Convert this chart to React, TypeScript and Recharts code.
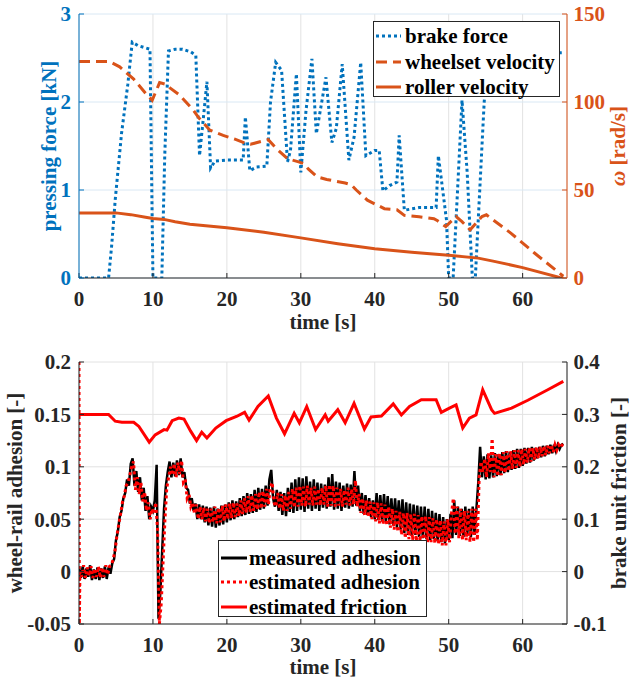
import React from 'react';
import { LineChart, Line, XAxis, YAxis, CartesianGrid, Legend } from 'recharts';

const FONT = 'Liberation Serif, DejaVu Serif, Noto Serif, Times, serif';
const BLUE = '#0072BD';
const ORANGE = '#D95319';
const DARK = '#262626';
const RED = '#FF0000';
const BLACK = '#000000';

// ---------- top panel data ----------
const BRAKE_T = [0, 4, 4.4, 4.9, 5.75, 6.6, 7.2, 8, 9.6, 10, 11.2, 11.6, 12.1, 13, 14, 15.1, 15.8, 16.3, 16.8, 17.3, 17.8, 18.4, 20, 22.2, 22.5, 23.1, 24, 25.4, 25.9, 26.6, 27.4, 28.2, 28.6, 29.4, 30, 30.7, 31.5, 32.1, 33.4, 34.2, 34.8, 35.6, 36.5, 37.2, 38.1, 38.8, 40, 40.6, 41.1, 42, 43, 43.3, 44, 46, 48.3, 48.6, 49.7, 50, 50.6, 51.2, 51.8, 52.5, 53.2, 53.6, 54.2, 54.8, 55.3, 60, 65.5];
const BRAKE_F = [0, 0, 0.35, 0.89, 1.64, 2.2, 2.68, 2.64, 2.6, 0, 0, 1.4, 2.58, 2.6, 2.6, 2.57, 2.53, 1.39, 1.8, 2.23, 1.25, 1.33, 1.34, 1.34, 1.83, 1.22, 1.26, 1.27, 2.0, 2.45, 2.36, 1.32, 1.45, 2.32, 1.2, 1.9, 2.49, 1.64, 2.28, 1.54, 1.7, 2.43, 1.34, 1.6, 2.45, 1.39, 1.45, 1.45, 0.99, 1.05, 1.09, 1.62, 0.77, 0.8, 0.8, 1.39, 0.66, 0, 0, 1.0, 2.02, 1.2, 0, 0, 1.0, 2.0, 2.55, 2.55, 2.56];

const WHEEL_T = [0, 4.1, 5.5, 7.4, 9, 9.9, 10.9, 11.8, 12.3, 13.6, 15.5, 16.2, 17.7, 19.5, 21, 22.7, 23.2, 25.6, 26.7, 28.2, 29.7, 30.4, 31, 32.2, 33.5, 34.7, 36, 36.8, 37.5, 39, 41.3, 43, 44, 46, 48, 48.5, 49.6, 51, 51.8, 52.9, 54.5, 55.1, 58.4, 61.6, 65.5];
const WHEEL_W = [123, 123, 120, 113, 105, 101, 111, 110, 108, 104, 95.2, 91, 84, 81, 79, 76.3, 76, 78.6, 73.5, 67.8, 66, 65, 62, 57.5, 56, 55, 54, 53, 50, 44.2, 39.4, 38.8, 35.6, 34.8, 33.7, 32.5, 29.2, 34.9, 32, 27.4, 34.9, 35.9, 25.5, 14.2, 1];

const ROLLER_T = [0, 5, 7, 9, 10, 11.5, 13, 15, 20, 25, 30, 35, 40, 45, 50, 54, 56, 60, 65, 65.5];
const ROLLER_W = [37, 37, 36, 34.5, 33.8, 33.3, 32, 30.5, 28.5, 26, 22.8, 19.5, 16.6, 14.6, 12.9, 11.3, 9.6, 5.9, 0.3, 0];

// ---------- bottom panel data ----------
const SAMPLE_STEP = 0.25;
// measured adhesion, sampled every 0.25 s from t = 0 (10 values = 2.5 s per row)
const MEAS_ADH = [
  0.004, -0.006, 0.005, -0.007, 0.003, -0.005, 0.006, -0.008, 0.002, -0.007,
  0.004, -0.008, 0.003, -0.006, 0.005, -0.007, 0.004, -0.002, 0.008, 0.012,
  0.03, 0.038, 0.052, 0.058, 0.07, 0.075, 0.088, 0.082, 0.103, 0.108,
  0.082, 0.096, 0.076, 0.09, 0.068, 0.08, 0.058, 0.072, 0.05, 0.062,
  0.058, 0.068, 0.102, -0.045, -0.02, 0.02, 0.06, 0.082, 0.095, 0.105,
  0.09, 0.104, 0.091, 0.106, 0.092, 0.108, 0.09, 0.095, 0.08, 0.078,
  0.065, 0.07, 0.058, 0.065, 0.05, 0.064, 0.05, 0.063, 0.047, 0.062,
  0.044, 0.061, 0.043, 0.062, 0.042, 0.06, 0.044, 0.063, 0.045, 0.064,
  0.047, 0.066, 0.049, 0.068, 0.05, 0.067, 0.052, 0.07, 0.053, 0.072,
  0.054, 0.075, 0.055, 0.074, 0.056, 0.078, 0.057, 0.08, 0.059, 0.079,
  0.06, 0.082, 0.063, 0.088, 0.097, 0.07, 0.062, 0.078, 0.058, 0.076,
  0.054, 0.075, 0.053, 0.08, 0.057, 0.085, 0.056, 0.088, 0.058, 0.09,
  0.059, 0.089, 0.057, 0.091, 0.06, 0.086, 0.058, 0.088, 0.06, 0.085,
  0.058, 0.084, 0.061, 0.083, 0.06, 0.09, 0.062, 0.093, 0.059, 0.086,
  0.06, 0.085, 0.058, 0.082, 0.061, 0.084, 0.06, 0.083, 0.062, 0.096,
  0.063, 0.082, 0.058, 0.075, 0.055, 0.073, 0.054, 0.07, 0.052, 0.068,
  0.05, 0.075, 0.049, 0.073, 0.048, 0.074, 0.047, 0.072, 0.045, 0.07,
  0.044, 0.07, 0.042, 0.068, 0.04, 0.069, 0.037, 0.066, 0.035, 0.065,
  0.034, 0.064, 0.035, 0.063, 0.033, 0.062, 0.032, 0.062, 0.031, 0.06,
  0.03, 0.058, 0.031, 0.056, 0.029, 0.055, 0.028, 0.052, 0.027, 0.05,
  0.03, 0.055, 0.032, 0.068, 0.035, 0.062, 0.034, 0.06, 0.033, 0.062,
  0.034, 0.06, 0.033, 0.062, 0.035, 0.06, 0.085, 0.119, 0.09, 0.11,
  0.088, 0.112, 0.089, 0.111, 0.09, 0.113, 0.091, 0.112, 0.092, 0.114,
  0.094, 0.115, 0.095, 0.114, 0.097, 0.116, 0.098, 0.117, 0.099, 0.117,
  0.101, 0.118, 0.103, 0.118, 0.104, 0.119, 0.106, 0.118, 0.108, 0.119,
  0.109, 0.12, 0.11, 0.12, 0.112, 0.121, 0.113, 0.121, 0.115, 0.121,
  0.117, 0.121, 0.122,
];
// estimated adhesion: start transient, then samples every 0.25 s from t = 0.125
const EST_START_T = [0, 0.05];
const EST_START_V = [0.2, -0.05];
const EST_FIRST_T = 0.125;
const EST_ADH = [
  0.0, -0.005, 0.006, -0.006, 0.004, -0.004, 0.005, -0.006, 0.003, -0.005,
  0.005, -0.006, 0.004, -0.005, 0.006, -0.003, 0.005, 0.006, 0.012, 0.02,
  0.034, 0.045, 0.055, 0.066, 0.072, 0.082, 0.085, 0.092, 0.1, 0.105,
  0.078, 0.09, 0.074, 0.085, 0.067, 0.076, 0.058, 0.066, 0.05, 0.06,
  0.055, 0.066, 0.04, -0.05, -0.03, 0.01, 0.05, 0.08, 0.09, 0.1,
  0.092, 0.103, 0.09, 0.104, 0.093, 0.106, 0.085, 0.088, 0.07, 0.074,
  0.062, 0.066, 0.055, 0.064, 0.05, 0.062, 0.05, 0.061, 0.048, 0.06,
  0.046, 0.06, 0.047, 0.062, 0.046, 0.061, 0.047, 0.063, 0.048, 0.064,
  0.05, 0.065, 0.051, 0.066, 0.052, 0.065, 0.053, 0.068, 0.055, 0.07,
  0.056, 0.072, 0.057, 0.073, 0.058, 0.074, 0.059, 0.076, 0.06, 0.077,
  0.062, 0.079, 0.064, 0.08, 0.085, 0.066, 0.062, 0.075, 0.06, 0.074,
  0.058, 0.073, 0.058, 0.076, 0.06, 0.079, 0.061, 0.08, 0.062, 0.082,
  0.063, 0.081, 0.062, 0.082, 0.064, 0.08, 0.063, 0.081, 0.064, 0.079,
  0.063, 0.08, 0.064, 0.082, 0.062, 0.083, 0.063, 0.082, 0.062, 0.08,
  0.063, 0.079, 0.062, 0.078, 0.064, 0.08, 0.063, 0.079, 0.064, 0.087,
  0.062, 0.074, 0.056, 0.07, 0.054, 0.068, 0.052, 0.067, 0.05, 0.066,
  0.048, 0.066, 0.046, 0.065, 0.045, 0.064, 0.044, 0.062, 0.042, 0.06,
  0.04, 0.058, 0.038, 0.057, 0.035, 0.056, 0.032, 0.056, 0.031, 0.055,
  0.03, 0.055, 0.029, 0.054, 0.029, 0.053, 0.028, 0.053, 0.028, 0.052,
  0.028, 0.051, 0.027, 0.05, 0.026, 0.049, 0.025, 0.048, 0.025, 0.05,
  0.028, 0.055, 0.07, 0.036, 0.062, 0.032, 0.06, 0.03, 0.058, 0.03,
  0.058, 0.028, 0.06, 0.028, 0.06, 0.03, 0.09, 0.105, 0.095, 0.108,
  0.09, 0.113, 0.095, 0.127, 0.09, 0.112, 0.091, 0.113, 0.092, 0.114,
  0.094, 0.115, 0.096, 0.115, 0.098, 0.116, 0.099, 0.116, 0.1, 0.117,
  0.102, 0.117, 0.104, 0.118, 0.105, 0.118, 0.107, 0.119, 0.108, 0.119,
  0.11, 0.12, 0.111, 0.12, 0.113, 0.121, 0.114, 0.121, 0.116, 0.121,
  0.118, 0.121,
];
const EST_END_T = [65.5];
const EST_END_V = [0.122];

const FRIC_T = [0, 4, 4.9, 5.8, 7.4, 8.1, 9.5, 10.3, 11.5, 11.9, 12.6, 13.5, 14.2, 15.1, 15.9, 16.6, 17.3, 18.5, 19.9, 21.3, 22.4, 23, 24.2, 25.6, 26.7, 27.8, 29.1, 29.8, 30.8, 32, 33.3, 33.7, 35, 36, 37.2, 38.6, 39.5, 40.9, 42.5, 43.6, 44.7, 46.3, 48.3, 49, 50.1, 51, 51.9, 52.8, 53.7, 54.6, 55.8, 56.2, 58.5, 60.7, 63.4, 65.5];
const FRIC_V = [0.3, 0.3, 0.287, 0.285, 0.285, 0.277, 0.247, 0.261, 0.271, 0.27, 0.288, 0.293, 0.291, 0.268, 0.25, 0.266, 0.255, 0.274, 0.288, 0.296, 0.304, 0.289, 0.315, 0.335, 0.293, 0.263, 0.302, 0.284, 0.315, 0.271, 0.299, 0.287, 0.309, 0.284, 0.321, 0.272, 0.295, 0.297, 0.32, 0.299, 0.315, 0.328, 0.328, 0.304, 0.312, 0.318, 0.274, 0.293, 0.299, 0.347, 0.309, 0.302, 0.312, 0.327, 0.347, 0.363];

// ---------- ticks / labels ----------
const TIME_TICKS = [0, 10, 20, 30, 40, 50, 60];
const FORCE_TICKS = [0, 1, 2, 3];
const OMEGA_TICKS = [0, 50, 100, 150];
const ADH_TICKS = [-0.05, 0, 0.05, 0.1, 0.15, 0.2];
const FRIC_TICKS = [-0.1, 0, 0.1, 0.2, 0.3, 0.4];
const TOP_NAMES = ['brake force', 'wheelset velocity', 'roller velocity'];
const BOTTOM_NAMES = ['measured adhesion', 'estimated adhesion', 'estimated friction'];

const zipPts = (ts: number[], vs: number[]) => ts.map((t, i) => ({ t, v: vs[i] }));

const brakeData = zipPts(BRAKE_T, BRAKE_F);
const wheelData = zipPts(WHEEL_T, WHEEL_W);
const rollerData = zipPts(ROLLER_T, ROLLER_W);
const measData = MEAS_ADH.map((v, i) => ({ t: i * SAMPLE_STEP, v }));
const estData = [
  ...zipPts(EST_START_T, EST_START_V),
  ...EST_ADH.map((v, i) => ({ t: EST_FIRST_T + i * SAMPLE_STEP, v })),
  ...zipPts(EST_END_T, EST_END_V),
];
const fricData = zipPts(FRIC_T, FRIC_V);

const tickFont = { fontSize: 21, fontWeight: 'bold', fontFamily: FONT };

function AxisTitle(props: any) {
  const { px, py, rotate, color, children } = props;
  return (
    <text
      x={px}
      y={py}
      transform={rotate ? `rotate(-90 ${px} ${py})` : undefined}
      textAnchor="middle"
      dominantBaseline="central"
      fill={color}
      fontSize={21}
      fontWeight="bold"
      fontFamily={FONT}
    >
      {children}
    </text>
  );
}

type Item = { name: string; color: string; dash?: string; sw: number };

function LegendBox(props: { items: Item[]; w: number; h: number; rows: number[]; sx: number; sw: number; tx: number }) {
  const { items, w, h, rows, sx, sw, tx } = props;
  return (
    <div
      style={{
        position: 'relative',
        width: w,
        height: h,
        background: '#fff',
        border: `1px solid ${DARK}`,
        boxSizing: 'border-box',
        fontFamily: FONT,
        fontWeight: 'bold',
        fontSize: 21,
        color: '#000',
      }}
    >
      {items.map((it, i) => (
        <div key={i} style={{ position: 'absolute', left: 0, top: rows[i] - 13, height: 26, width: w - 2 }}>
          <svg width={sw} height={10} style={{ position: 'absolute', left: sx, top: 8 }}>
            <line x1={0} y1={5} x2={sw} y2={5} stroke={it.color} strokeWidth={it.sw} strokeDasharray={it.dash} />
          </svg>
          <span style={{ position: 'absolute', left: tx, top: 0, lineHeight: '26px', whiteSpace: 'nowrap' }}>{it.name}</span>
        </div>
      ))}
    </div>
  );
}

const topItems: Item[] = [
  { name: TOP_NAMES[0], color: BLUE, dash: '3 3', sw: 3 },
  { name: TOP_NAMES[1], color: ORANGE, dash: '11 6', sw: 3 },
  { name: TOP_NAMES[2], color: ORANGE, sw: 3 },
];
const bottomItems: Item[] = [
  { name: BOTTOM_NAMES[0], color: BLACK, sw: 3 },
  { name: BOTTOM_NAMES[1], color: RED, dash: '3 3', sw: 3 },
  { name: BOTTOM_NAMES[2], color: RED, sw: 3 },
];

export default function App() {
  return (
    <div style={{ position: 'absolute', left: 0, top: 0, width: 634, height: 684, background: '#fff', fontFamily: FONT }}>
      {/* ---------- top panel ---------- */}
      <div style={{ position: 'absolute', left: 0, top: 0 }}>
        <LineChart width={634} height={340} margin={{ top: 14, right: 0, bottom: 20, left: 0 }}>
          <CartesianGrid horizontal={false} stroke="#e2e2e2" yAxisId="left" />
          <CartesianGrid vertical={false} stroke="#d9e8f4" yAxisId="left" />
          <XAxis
            type="number"
            dataKey="t"
            domain={[0, 66]}
            ticks={TIME_TICKS}
            interval={0}
            allowDataOverflow
            height={42}
            stroke={DARK}
            tick={{ ...tickFont, fill: DARK }}
            tickSize={-5}
            tickMargin={18.5}
            label={<AxisTitle px={323} py={322} color={DARK}>time [s]</AxisTitle>}
          />
          <XAxis xAxisId="top" orientation="top" type="number" domain={[0, 66]} ticks={TIME_TICKS} interval={0} height={0} stroke={DARK} tick={false} tickSize={-5} />
          <YAxis
            yAxisId="left"
            type="number"
            domain={[0, 3]}
            ticks={FORCE_TICKS}
            interval={0}
            allowDataOverflow
            width={79}
            stroke={BLUE}
            tick={{ ...tickFont, fill: BLUE }}
            tickSize={-5}
            tickMargin={13}
            label={<AxisTitle px={49} py={146} rotate color={BLUE}>pressing force [kN]</AxisTitle>}
          />
          <YAxis
            yAxisId="right"
            orientation="right"
            type="number"
            domain={[0, 150]}
            ticks={OMEGA_TICKS}
            interval={0}
            allowDataOverflow
            width={67}
            stroke={ORANGE}
            tick={{ ...tickFont, fill: ORANGE }}
            tickSize={-5}
            tickMargin={11.5}
            label={
              <AxisTitle px={618} py={146} rotate color={ORANGE}>
                <tspan fontStyle="italic">ω</tspan> [rad/s]
              </AxisTitle>
            }
          />
          <Line yAxisId="left" data={brakeData} dataKey="v" name={TOP_NAMES[0]} stroke={BLUE} strokeWidth={3} strokeDasharray="3 3" dot={false} activeDot={false} isAnimationActive={false} />
          <Line yAxisId="right" data={wheelData} dataKey="v" name={TOP_NAMES[1]} stroke={ORANGE} strokeWidth={3} strokeDasharray="11 6" dot={false} activeDot={false} isAnimationActive={false} />
          <Line yAxisId="right" data={rollerData} dataKey="v" name={TOP_NAMES[2]} stroke={ORANGE} strokeWidth={3} dot={false} activeDot={false} isAnimationActive={false} />
          <Legend
            layout="vertical"
            align="center"
            verticalAlign="middle"
            wrapperStyle={{ left: 373, top: 21, width: 187, height: 76 }}
            content={() => <LegendBox items={topItems} w={187} h={76} rows={[14, 40, 65]} sx={2} sw={25} tx={31} />}
          />
        </LineChart>
      </div>

      {/* ---------- bottom panel ---------- */}
      <div style={{ position: 'absolute', left: 0, top: 320 }}>
        <LineChart width={634} height={364} margin={{ top: 42, right: 0, bottom: 0, left: 0 }}>
          <CartesianGrid stroke="#e2e2e2" yAxisId="left" />
          <XAxis
            type="number"
            dataKey="t"
            domain={[0, 66]}
            ticks={TIME_TICKS}
            interval={0}
            allowDataOverflow
            height={60}
            stroke={DARK}
            tick={{ ...tickFont, fill: DARK }}
            tickSize={-5}
            tickMargin={18.5}
            label={<AxisTitle px={323} py={347} color={DARK}>time [s]</AxisTitle>}
          />
          <XAxis xAxisId="top" orientation="top" type="number" domain={[0, 66]} ticks={TIME_TICKS} interval={0} height={0} stroke={DARK} tick={false} tickSize={-5} />
          <YAxis
            yAxisId="left"
            type="number"
            domain={[-0.05, 0.2]}
            ticks={ADH_TICKS}
            interval={0}
            allowDataOverflow
            width={79}
            stroke={DARK}
            tick={{ ...tickFont, fill: DARK }}
            tickSize={-5}
            tickMargin={13}
            label={<AxisTitle px={15} py={173} rotate color={DARK}>wheel-rail adhesion [-]</AxisTitle>}
          />
          <YAxis
            yAxisId="right"
            orientation="right"
            type="number"
            domain={[-0.1, 0.4]}
            ticks={FRIC_TICKS}
            interval={0}
            allowDataOverflow
            width={67}
            stroke={DARK}
            tick={{ ...tickFont, fill: DARK }}
            tickSize={-5}
            tickMargin={11.5}
            label={<AxisTitle px={619} py={173} rotate color={DARK}>brake unit friction [-]</AxisTitle>}
          />
          <Line yAxisId="left" data={measData} dataKey="v" name={BOTTOM_NAMES[0]} stroke={BLACK} strokeWidth={2.5} dot={false} activeDot={false} isAnimationActive={false} />
          <Line yAxisId="left" data={estData} dataKey="v" name={BOTTOM_NAMES[1]} stroke={RED} strokeWidth={3} strokeDasharray="3 3" dot={false} activeDot={false} isAnimationActive={false} />
          <Line yAxisId="right" data={fricData} dataKey="v" name={BOTTOM_NAMES[2]} stroke={RED} strokeWidth={3} dot={false} activeDot={false} isAnimationActive={false} />
          <Legend
            layout="vertical"
            align="center"
            verticalAlign="middle"
            wrapperStyle={{ left: 218, top: 220, width: 209, height: 77 }}
            content={() => <LegendBox items={bottomItems} w={209} h={77} rows={[17, 41, 66]} sx={2} sw={26} tx={30} />}
          />
        </LineChart>
      </div>
    </div>
  );
}
